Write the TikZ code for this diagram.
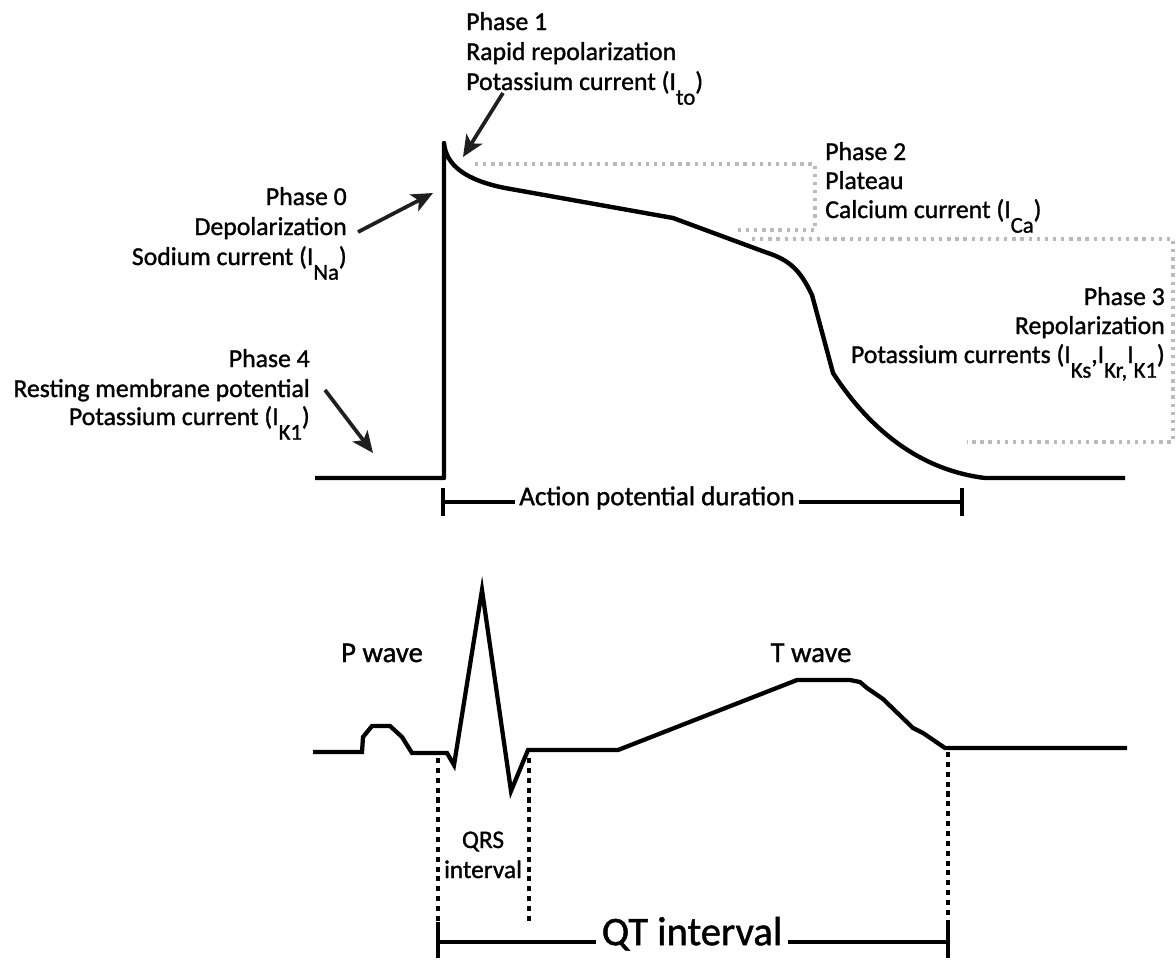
\documentclass[tikz,border=0pt]{standalone}
\usepackage{fontspec}
\setmainfont{Carlito}[BoldFont=Carlito,BoldFeatures={FakeBold=1.2}]
\usetikzlibrary{arrows.meta}
\newcommand{\sbs}[1]{\raisebox{-11pt}{\fontsize{17}{17}\selectfont #1}}
\begin{document}
\begin{tikzpicture}[x=0.75pt,y=-0.75pt,
  lbl/.style={inner sep=0pt,font=\fontsize{19.3}{22}\selectfont\bfseries},
  wav/.style={inner sep=0pt,font=\fontsize{21.5}{24}\selectfont\bfseries},
  curve/.style={line width=3.3pt,line join=round},
  ecg/.style={line width=3.2pt,line join=miter},
  ptr/.style={line width=2.8pt,draw=black!88,-{Stealth[length=16pt,width=14pt,inset=4pt]}},
  gbox/.style={draw=black!27,line width=2.5pt,dash pattern=on 2.5pt off 3.6pt},
  kdot/.style={line width=2.6pt,dash pattern=on 3.8pt off 3.6pt},
  bar/.style={line width=2.8pt}]
\useasboundingbox (0,0) rectangle (1176,960);

% ---- action potential ----
\draw[curve] (315,478) -- (444,478) -- (444,143)
  .. controls (446,165) and (465,180) .. (505,188) -- (673,218) -- (765,252)
  .. controls (790,260) and (800,270) .. (812,295) -- (833,373)
  .. controls (870,430) and (920,470) .. (985,478) -- (1125,478);

% grey dotted brackets
\draw[gbox] (475,164) -- (815,164) -- (815,230) -- (733,230);
\draw[gbox] (752,239) -- (1173,239) -- (1173,442) -- (967,442);

% Phase 1
\node[lbl,anchor=base west] (p1a) at (466,30) {Phase 1};
\node[lbl,anchor=base west] (p1b) at (466,60) {Rapid repolarization};
\node[lbl,anchor=base west] (p1c) at (466,90) {Potassium current (I\sbs{to})};
% Phase 0
\node[lbl,anchor=base east] (p0a) at (347,205) {Phase 0};
\node[lbl,anchor=base east] (p0b) at (347,235) {Depolarization};
\node[lbl,anchor=base east] (p0c) at (347,265) {Sodium current (I\sbs{Na})};
% Phase 4
\node[lbl,anchor=base east] (p4a) at (310,367) {Phase 4};
\node[lbl,anchor=base east] (p4b) at (310,397) {Resting membrane potential};
\node[lbl,anchor=base east] (p4c) at (310,425) {Potassium current (I\sbs{K1})};
% Phase 2
\node[lbl,anchor=base west] (p2a) at (825,160) {Phase 2};
\node[lbl,anchor=base west] (p2b) at (825,189) {Plateau};
\node[lbl,anchor=base west] (p2c) at (825,218) {Calcium current (I\sbs{Ca})};
% Phase 3
\node[lbl,anchor=base east] (p3a) at (1165,305) {Phase 3};
\node[lbl,anchor=base east] (p3b) at (1165,334) {Repolarization};
\node[lbl,anchor=base east] (p3c) at (1165,363) {Potassium currents (I\sbs{Ks},I\sbs{Kr,}I\sbs{K1})};

% arrows
\coordinate (a1t) at (503,93);  \coordinate (a1h) at (463,157);
\coordinate (a0t) at (358,232); \coordinate (a0h) at (433,193);
\coordinate (a4t) at (325,390); \coordinate (a4h) at (373,453);
\draw[ptr] (a1t) -- (a1h);
\draw[ptr] (a0t) -- (a0h);
\draw[ptr] (a4t) -- (a4h);

% action potential duration bar
\node[font=\fontsize{20.3}{24}\selectfont\bfseries,inner sep=3pt,anchor=mid] (apd) at (657,502) {Action potential duration};
\coordinate (apdL) at (443,502); \coordinate (apdR) at (962,502);
\draw[bar] (apdL) -- (apd.mid west);
\draw[bar] (apd.mid east) -- (apdR);
\draw[bar] (443,488) -- (443,516);
\draw[bar] (962,488) -- (962,516);

% ---- ECG ----
\draw[ecg] (313,752) -- (362,752) -- (363,737) -- (372,726) -- (390,726) -- (402,737)
  -- (412,753) -- (447,753) -- (454,765) -- (482,590) -- (511,791) -- (528,750)
  -- (618,750) -- (797,680) -- (850,680) -- (860,682) -- (867,688) -- (883,699)
  -- (913,728) -- (923,733) -- (945,748) -- (1127,748);

\node[wav,anchor=base] (pw) at (382,662) {P wave};
\node[wav,anchor=base] (tw) at (811,662) {T wave};

\draw[kdot] (438,758) -- (438,922);
\draw[kdot] (529,758) -- (529,923);
\draw[kdot] (948,752) -- (948,922);

\node[inner sep=0pt,font=\fontsize{19}{22}\selectfont\bfseries,anchor=base] (qrs1) at (483,848) {QRS};
\node[inner sep=0pt,font=\fontsize{19}{22}\selectfont\bfseries,anchor=base] (qrs2) at (483,878) {interval};

% QT bar
\node[font=\fontsize{30.5}{36}\selectfont\bfseries,inner sep=4pt,anchor=mid] (qt) at (692,942) {QT interval};
\coordinate (qtL) at (438,942); \coordinate (qtR) at (948,942);
\draw[bar] (qtL) -- (qt.mid west);
\draw[bar] (qt.mid east) -- (qtR);
\draw[bar] (438,922) -- (438,958);
\draw[bar] (948,922) -- (948,958);
\end{tikzpicture}
\end{document}
